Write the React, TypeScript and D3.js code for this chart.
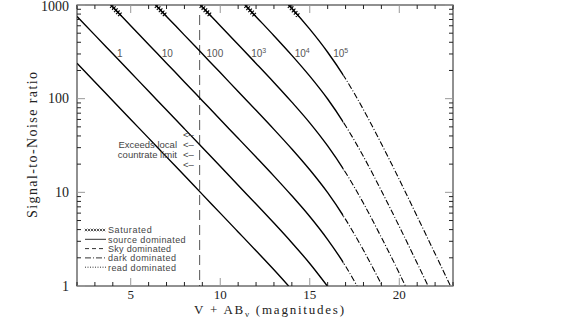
import React from "react";
import * as d3 from "d3";

// ---- data ----
const curveLabels = ["", "1", "10", "100", "10^3", "10^4", "10^5"];

const magsA = [2, 3, 4, 5, 6, 7, 8, 9, 10, 11, 12, 13, 13.82];
const snA = [239, 151, 95.1, 60.0, 37.9, 23.9, 15.1, 9.51, 6.0, 3.78, 2.38, 1.49, 1];

const magsB = [2, 3, 4, 5, 6, 7, 8, 9, 10, 11, 12, 13, 14, 15, 15.98];
const snB = [755, 477, 301, 190, 120, 75.6, 47.7, 30.1, 19.0, 11.9, 7.51, 4.7, 2.9, 1.74, 1];

const magsC = [3.89, 4, 5, 6, 7, 8, 9, 10, 11, 12, 13, 14, 15, 16, 17, 17.64];
const snC = [1000, 951, 600, 379, 239, 151, 95.1, 59.9, 37.8, 23.8, 14.9, 9.18, 5.52, 3.13, 1.63, 1];

const magsD = [6.39, 7, 8, 9, 10, 11, 12, 13, 14, 15, 16, 17, 18, 19.05];
const snD = [1000, 755, 477, 301, 190, 119, 75.1, 47.0, 29.0, 17.4, 9.91, 5.14, 2.41, 1];

const magsE = [8.89, 9, 10, 11, 12, 13, 14, 15, 16, 17, 18, 19, 20, 20.34];
const snE = [1000, 951, 600, 378, 238, 149, 91.8, 55.2, 31.3, 16.3, 7.63, 3.3, 1.37, 1];

const magsF = [11.39, 12, 13, 14, 15, 16, 17, 18, 19, 20, 21, 21.61];
const snF = [1000, 751, 470, 290, 174, 99.1, 51.4, 24.1, 10.4, 4.32, 1.75, 1];

const magsG = [13.82, 14, 15, 16, 17, 18, 19, 20, 21, 22, 22.86];
const snG = [1000, 918, 552, 313, 163, 76.3, 33.0, 13.7, 5.52, 2.21, 1];

const curveMags = [magsA, magsB, magsC, magsD, magsE, magsF, magsG];
const curveSN = [snA, snB, snC, snD, snE, snF, snG];
// magnitude where the saturated part of each curve ends (null = none)
const saturatedUntil = [null, null, 4.4, 6.9, 9.4, 11.9, 14.35];

const darkDominatedFrom = 16.88; // mag where curves switch to dark-dominated
const countrateLimitMag = 8.85;

const xTickLabels = [5, 10, 15, 20];
const yTickLabels = [1, 10, 100, 1000];

const legendItems = ["Saturated", "source dominated", "Sky dominated", "dark dominated", "read dominated"];

// ---- layout ----
const W = 565;
const H = 319;
const L = 77, R = 453, T = 5, B = 286;

export default function App() {
  const x = d3.scaleLinear().domain([2, 23]).range([L, R]);
  const y = d3.scaleLog().domain([1, 1000]).range([B, T]);
  const line = d3
    .line<[number, number]>()
    .x((d) => x(d[0]))
    .y((d) => y(d[1]))
    .curve(d3.curveMonotoneX);

  const xMinor = d3.range(2, 24);
  const yMinor: number[] = [];
  [1, 10, 100].forEach((dec) => {
    for (let k = 1; k <= 9; k++) yMinor.push(dec * k);
  });
  yMinor.push(1000);

  const xd = x(darkDominatedFrom);
  const sansFont = "'Liberation Sans', Arial, sans-serif";
  const serifFont = "'Liberation Serif', 'Times New Roman', serif";

  const xMark = (px: number, py: number, s: number) =>
    `M${px - s},${py - s}L${px + s},${py + s}M${px - s},${py + s}L${px + s},${py - s}`;

  return (
    <svg
      width={W}
      height={H}
      style={{ position: "absolute", left: 0, top: 0, background: "#fff" }}
    >
      <defs>
        <clipPath id="plot">
          <rect x={L} y={T} width={R - L} height={B - T} />
        </clipPath>
        <clipPath id="solidPart">
          <rect x={L} y={T} width={xd - L} height={B - T} />
        </clipPath>
        <clipPath id="darkPart">
          <rect x={xd} y={T} width={R - xd} height={B - T} />
        </clipPath>
      </defs>

      {/* countrate limit line */}
      <line
        x1={x(countrateLimitMag)}
        x2={x(countrateLimitMag)}
        y1={T + 10}
        y2={B}
        stroke="#555"
        strokeWidth={1}
        strokeDasharray="10,5"
      />

      {/* curves */}
      {curveMags.map((mags, i) => {
        const pts = mags.map((m, j) => [m, curveSN[i][j]] as [number, number]);
        const d = line(pts) || "";
        const interp = d3
          .scaleLinear()
          .domain(mags)
          .range(curveSN[i].map((v) => Math.log10(v)));
        const inv = d3
          .scaleLinear()
          .domain(curveSN[i].map((v) => Math.log10(v)))
          .range(mags);
        const sat = saturatedUntil[i];
        let satPath = "";
        if (sat !== null) {
          const x0 = x(mags[0]);
          const x1 = x(sat as number);
          for (let px = x0 + 1; px <= x1; px += 2) {
            const py = y(Math.pow(10, interp(x.invert(px))));
            satPath += xMark(px, py, 1.8);
          }
        }
        const lab = curveLabels[i];
        let labelEl = null;
        if (lab) {
          const snAt = y.invert(53);
          const mAt = inv(Math.log10(snAt));
          const lx = x(mAt) + 5;
          const parts = lab.split("^");
          labelEl = (
            <text
              x={lx}
              y={57}
              fontFamily={sansFont}
              fontSize={10}
              fill="#555"
            >
              {parts[0]}
              {parts[1] ? (
                <tspan dy={-4} fontSize={7}>
                  {parts[1]}
                </tspan>
              ) : null}
            </text>
          );
        }
        return (
          <g key={i}>
            <g clipPath="url(#plot)">
              <path
                d={d}
                fill="none"
                stroke="#000"
                strokeWidth={1.4}
                clipPath="url(#solidPart)"
              />
              <path
                d={d}
                fill="none"
                stroke="#000"
                strokeWidth={1.1}
                strokeDasharray="6,2,1,2"
                clipPath="url(#darkPart)"
              />
              {satPath ? (
                <path d={satPath} fill="none" stroke="#000" strokeWidth={1.1} />
              ) : null}
            </g>
            {labelEl}
          </g>
        );
      })}

      {/* frame */}
      <rect x={L} y={T} width={R - L} height={B - T} fill="none" stroke="#222" strokeWidth={1} />

      {/* x ticks */}
      {xMinor.map((v) => {
        const major = xTickLabels.includes(v);
        const len = major ? 8 : 4;
        const c = major ? "#999" : "#222";
        return (
          <g key={"xt" + v}>
            <line x1={x(v)} x2={x(v)} y1={B} y2={B - len} stroke={c} />
            <line x1={x(v)} x2={x(v)} y1={T} y2={T + len} stroke={c} />
          </g>
        );
      })}
      {xTickLabels.map((v) => (
        <text
          key={"xl" + v}
          x={x(v)}
          y={299}
          textAnchor="middle"
          fontFamily={serifFont}
          fontSize={13}
          fill="#222"
        >
          {v}
        </text>
      ))}

      {/* y ticks */}
      {yMinor.map((v, i) => {
        const major = yTickLabels.includes(v);
        const len = major ? 8 : 4;
        const c = major ? "#999" : "#222";
        return (
          <g key={"yt" + i}>
            <line x1={L} x2={L + len} y1={y(v)} y2={y(v)} stroke={c} />
            <line x1={R} x2={R - len} y1={y(v)} y2={y(v)} stroke={c} />
          </g>
        );
      })}
      {yTickLabels.map((v) => (
        <text
          key={"yl" + v}
          x={69}
          y={Math.max(y(v) + 4.5, 11)}
          textAnchor="end"
          fontFamily={serifFont}
          fontSize={14}
          fill="#222"
        >
          {v}
        </text>
      ))}

      {/* axis titles */}
      <text
        transform={`translate(37,145) rotate(-90)`}
        textAnchor="middle"
        fontFamily={serifFont}
        fontSize={14}
        fill="#222"
        textLength={146}
        lengthAdjust="spacing"
      >
        Signal-to-Noise ratio
      </text>
      <text
        x={269}
        y={313.5}
        textAnchor="middle"
        fontFamily={serifFont}
        fontSize={13}
        fill="#222"
        textLength={150}
        lengthAdjust="spacing"
      >
        V + AB
        <tspan dy={3} fontSize={9}>
          ν
        </tspan>
        <tspan dy={-3}> (magnitudes)</tspan>
      </text>

      {/* countrate limit annotation */}
      <g fontFamily={sansFont} fontSize={9.5} fill="#444">
        <text x={183} y={138}>{"<\u2013"}</text>
        <text x={177} y={148} textAnchor="end">Exceeds local</text>
        <text x={183} y={148}>{"<\u2013"}</text>
        <text x={177} y={158} textAnchor="end">countrate limit</text>
        <text x={183} y={158}>{"<\u2013"}</text>
        <text x={183} y={168}>{"<\u2013"}</text>
      </g>

      {/* legend */}
      {legendItems.map((name, i) => {
        const ly = 230 + i * 9.3;
        const x0 = 85, x1 = 106;
        let sample = null;
        if (i === 0) {
          let p = "";
          for (let px = x0 + 1; px <= x1; px += 3) p += xMark(px, ly, 1.2);
          sample = <path d={p} stroke="#444" strokeWidth={0.9} fill="none" />;
        } else {
          const dash = ["", "", "4,3", "6,2,1,2", "1,1.5"][i];
          sample = (
            <line
              x1={x0}
              x2={x1}
              y1={ly}
              y2={ly}
              stroke="#333"
              strokeWidth={1}
              strokeDasharray={dash || undefined}
            />
          );
        }
        return (
          <g key={"lg" + i}>
            {sample}
            <text
              x={108}
              y={ly + 3.3}
              fontFamily={sansFont}
              fontSize={9}
              fill="#444"
              textLength={name.length * 4.85}
              lengthAdjust="spacing"
            >
              {name}
            </text>
          </g>
        );
      })}
    </svg>
  );
}
